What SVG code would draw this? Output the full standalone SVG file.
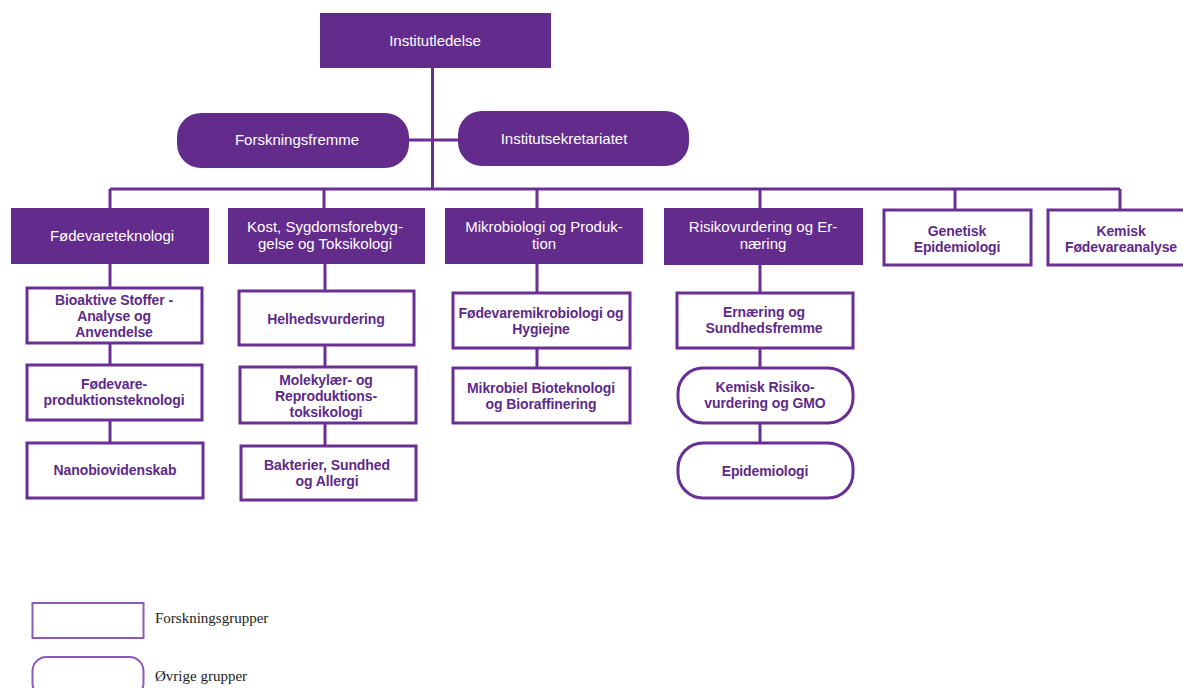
<svg xmlns="http://www.w3.org/2000/svg" width="1183" height="688" viewBox="0 0 1183 688">
<style>
.fill{fill:#632b8b;stroke:none}
.out{fill:#fff;stroke:#6a2f94;stroke-width:3}
.ln{stroke:#6a2f94;stroke-width:3;fill:none}
.wt{font-family:"Liberation Sans",Arial,sans-serif;font-size:15px;fill:#fff;text-anchor:middle}
.pt{font-family:"Liberation Sans",Arial,sans-serif;font-size:14px;font-weight:bold;fill:#5e2a8a;text-anchor:middle;letter-spacing:-0.1px}
.lg{font-family:"Liberation Serif",serif;font-size:15px;fill:#222}
</style>
<rect width="1183" height="688" fill="#fff"/>
<g id="connectors">
<path class="ln" d="M432.5 68V189M409 140H458M110 189H1120M110 189V208M324 189V208M537 189V208M760 189V208M955 189V209M1120 189V209"/>
<path class="ln" d="M110 264V288M110 343V365M110 420V443"/>
<path class="ln" d="M325 264V291M325 345V367M325 423V446"/>
<path class="ln" d="M537 264V293M537 348V368"/>
<path class="ln" d="M760 265V293M760 348V368M760 423V443"/>
</g>
<g id="institutledelse"><rect class="fill" x="320" y="13" width="231" height="55"/><text class="wt" x="435" y="46">Institutledelse</text></g>
<g id="forskningsfremme"><rect class="fill" x="177" y="113" width="232" height="55" rx="24"/><text class="wt" x="297" y="145">Forskningsfremme</text></g>
<g id="institutsekretariatet"><rect class="fill" x="458" y="111" width="231" height="55" rx="24"/><text class="wt" x="564" y="144">Institutsekretariatet</text></g>
<g id="foedevareteknologi"><rect class="fill" x="11" y="208" width="198" height="56"/><text class="wt" x="112" y="241">Fødevareteknologi</text></g>
<g id="kost"><rect class="fill" x="228" y="208" width="197" height="56"/><text class="wt" x="325" y="232">Kost, Sygdomsforebyg-</text><text class="wt" x="325" y="249">gelse og Toksikologi</text></g>
<g id="mikrobiologi"><rect class="fill" x="445" y="208" width="198" height="56"/><text class="wt" x="544" y="232">Mikrobiologi og Produk-</text><text class="wt" x="544" y="249">tion</text></g>
<g id="risikovurdering"><rect class="fill" x="664" y="208" width="199" height="57"/><text class="wt" x="763" y="232">Risikovurdering og Er-</text><text class="wt" x="763" y="249">næring</text></g>
<g id="genetisk"><rect class="out" x="884" y="210" width="147" height="55"/><text class="pt" x="957" y="236">Genetisk</text><text class="pt" x="957" y="252">Epidemiologi</text></g>
<g id="kemisk-foedevareanalyse"><rect class="out" x="1048" y="210" width="145" height="55"/><text class="pt" x="1121" y="236">Kemisk</text><text class="pt" x="1121" y="252">Fødevareanalyse</text></g>
<g id="bioaktive"><rect class="out" x="27" y="288" width="175" height="55"/><text class="pt" x="114" y="305">Bioaktive Stoffer -</text><text class="pt" x="114" y="321">Analyse og</text><text class="pt" x="114" y="337">Anvendelse</text></g>
<g id="foedevareproduktion"><rect class="out" x="27" y="365" width="175" height="55"/><text class="pt" x="114" y="389">Fødevare-</text><text class="pt" x="114" y="405">produktionsteknologi</text></g>
<g id="nanobio"><rect class="out" x="27" y="443" width="176" height="55"/><text class="pt" x="115" y="475">Nanobiovidenskab</text></g>
<g id="helhed"><rect class="out" x="239" y="291" width="175" height="54"/><text class="pt" x="326" y="324">Helhedsvurdering</text></g>
<g id="molekylaer"><rect class="out" x="240" y="367" width="176" height="56"/><text class="pt" x="326" y="385">Molekylær- og</text><text class="pt" x="326" y="401">Reproduktions-</text><text class="pt" x="326" y="417">toksikologi</text></g>
<g id="bakterier"><rect class="out" x="241" y="446" width="175" height="54"/><text class="pt" x="327" y="470">Bakterier, Sundhed</text><text class="pt" x="327" y="486">og Allergi</text></g>
<g id="foedevaremikro"><rect class="out" x="453" y="293" width="177" height="55"/><text class="pt" x="541" y="318">Fødevaremikrobiologi og</text><text class="pt" x="541" y="334">Hygiejne</text></g>
<g id="mikrobiel"><rect class="out" x="453" y="368" width="177" height="55"/><text class="pt" x="541" y="393">Mikrobiel Bioteknologi</text><text class="pt" x="541" y="409">og Bioraffinering</text></g>
<g id="ernaering"><rect class="out" x="677" y="293" width="176" height="55"/><text class="pt" x="764" y="317">Ernæring og</text><text class="pt" x="764" y="333">Sundhedsfremme</text></g>
<g id="kemisk-risiko"><rect class="out" x="678" y="368" width="175" height="55" rx="25"/><text class="pt" x="765" y="392">Kemisk Risiko-</text><text class="pt" x="765" y="408">vurdering og GMO</text></g>
<g id="epidemiologi"><rect class="out" x="678" y="443" width="175" height="55" rx="25"/><text class="pt" x="765" y="476">Epidemiologi</text></g>
<g id="legend">
<rect x="32.5" y="603" width="111" height="35" fill="#fff" stroke="#8a5ab8" stroke-width="2"/>
<text class="lg" x="155" y="623">Forskningsgrupper</text>
<rect x="32.5" y="657" width="111" height="40" rx="14" fill="#fff" stroke="#8a5ab8" stroke-width="2"/>
<text class="lg" x="155" y="681">Øvrige grupper</text>
</g>
</svg>
